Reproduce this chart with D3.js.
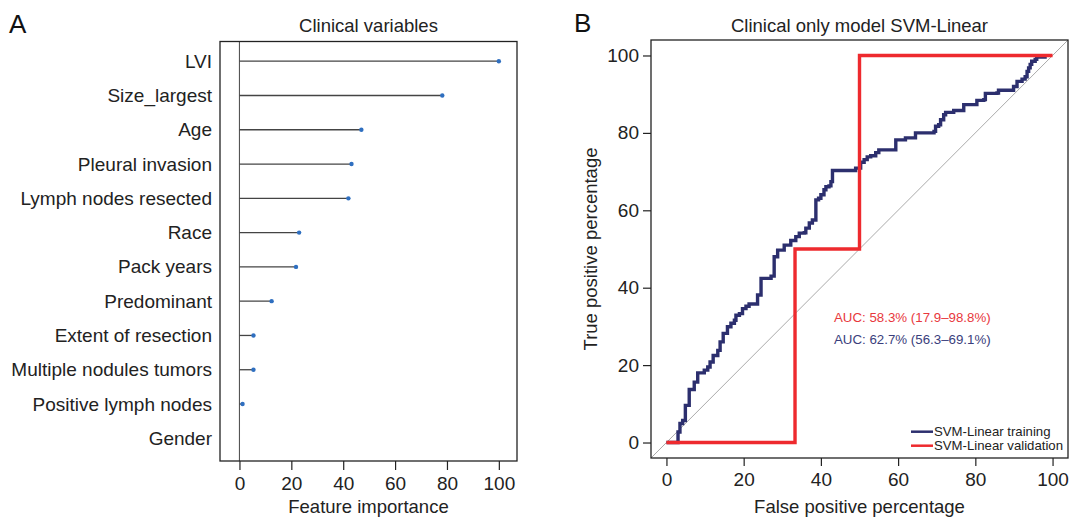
<!DOCTYPE html>
<html>
<head>
<meta charset="utf-8">
<script src="https://cdn.jsdelivr.net/npm/d3@7"></script>
<style>
  body { margin: 0; background: #fff; }
  svg { display: block; font-family: "Liberation Sans", Arial, Helvetica, sans-serif; }
  .axis text { font-size: 19px; fill: #222; }
  .axis line { stroke: #222; stroke-width: 1.2; }
</style>
</head>
<body>
<svg width="1073" height="520"></svg>
<script>
// panel A: variable importance
const variables = ["LVI", "Size_largest", "Age", "Pleural invasion", "Lymph nodes resected",
  "Race", "Pack years", "Predominant", "Extent of resection", "Multiple nodules tumors",
  "Positive lymph nodes", "Gender"];
const importance = [100, 78.2, 47.0, 43.2, 42.0, 23.0, 21.8, 12.4, 5.4, 5.4, 1.2, 0];
const importanceTicks = [0, 20, 40, 60, 80, 100];

// panel B: ROC curves (percent)
const trainFpr = [0, 3.0, 3.0, 3.5, 3.5, 4.2, 4.9, 4.9, 5.9, 5.9, 7.2, 7.2, 8.1, 8.1, 9.8, 9.8,
  10.7, 10.7, 11.3, 11.3, 12.1, 12.1, 13.3, 13.3, 13.9, 13.9, 14.7, 14.7, 15.8, 15.8, 16.7, 16.7,
  17.6, 17.6, 18.0, 18.9, 19.7, 20.6, 21.4, 23.6, 23.6, 24.5, 24.5, 26.2, 27.1, 27.9, 27.9, 28.8,
  28.8, 30.5, 30.5, 31.3, 32.2, 33.5, 34.4, 35.7, 36.1, 37.0, 37.8, 38.7, 38.7, 39.4, 40.0, 40.8,
  41.3, 42.1, 42.6, 43.0, 43.0, 48.6, 49.0, 49.6, 50.3, 51.2, 52.0, 52.9, 54.2, 55.0, 59.4, 59.4,
  61.5, 61.9, 63.6, 64.5, 69.3, 69.7, 70.5, 71.0, 71.8, 72.3, 74.0, 74.4, 76.6, 77.0, 80.0, 80.4,
  82.2, 82.6, 85.6, 86.0, 89.5, 89.9, 90.8, 92.1, 92.9, 93.4, 93.8, 94.2, 94.6, 95.5, 95.9, 98.5];
const trainTpr = [0, 0, 2.7, 2.7, 4.9, 5.7, 5.7, 9.6, 9.6, 13.7, 13.7, 15.6, 15.6, 18.0, 18.0, 18.7,
  18.7, 19.5, 19.5, 20.8, 20.8, 22.5, 22.5, 23.8, 23.8, 26.0, 26.0, 28.2, 28.2, 29.9, 29.9, 30.8,
  30.8, 31.6, 32.9, 33.3, 34.6, 35.2, 35.8, 35.8, 38.1, 38.1, 42.4, 42.4, 43.0, 43.0, 48.0, 48.0,
  49.7, 49.7, 51.0, 51.0, 52.2, 53.2, 54.1, 54.2, 55.4, 56.7, 57.5, 59.2, 62.7, 63.1, 64.0, 65.3,
  66.1, 66.3, 67.4, 67.9, 70.3, 70.3, 70.9, 70.9, 72.4, 73.1, 73.8, 74.1, 74.9, 75.6, 75.6, 78.2,
  78.2, 78.7, 78.7, 80.0, 80.4, 81.7, 82.1, 83.4, 84.7, 85.3, 85.3, 85.8, 85.8, 87.3, 87.3, 88.4,
  88.6, 90.2, 90.3, 91.0, 91.0, 92.0, 93.3, 93.9, 94.5, 95.9, 96.8, 97.7, 98.5, 99.0, 99.6, 99.6];
const validFpr = [0, 33.3, 33.3, 50, 50, 100];
const validTpr = [0, 0, 50, 50, 100, 100];
const rocTicks = [0, 20, 40, 60, 80, 100];
const aucLabels = ["AUC: 58.3% (17.9\u201398.8%)", "AUC: 62.7% (56.3\u201369.1%)"];
const legendLabels = ["SVM-Linear training", "SVM-Linear validation"];

const navy = "#2c2f6e";
const red = "#ee2a2e";

const svg = d3.select("svg");

// ---------- panel A ----------
const boxA = { left: 220, right: 517, top: 41.5, bottom: 461 };
const xA = d3.scaleLinear().domain([-7.5, 107]).range([boxA.left, boxA.right]);
const yA = d3.scalePoint().domain(variables).range([61.2, 438.3]);

const gA = svg.append("g");

gA.append("line")
  .attr("x1", xA(0)).attr("x2", xA(0))
  .attr("y1", boxA.top).attr("y2", boxA.bottom)
  .attr("stroke", "#555").attr("stroke-width", 1.1);

const rowsA = variables.map((v, i) => ({ name: v, value: importance[i] }));

gA.selectAll(".stem")
  .data(rowsA)
  .enter()
  .append("line")
  .attr("class", "stem")
  .attr("x1", xA(0))
  .attr("x2", d => xA(d.value))
  .attr("y1", d => yA(d.name))
  .attr("y2", d => yA(d.name))
  .attr("stroke", "#444")
  .attr("stroke-width", 1.3);

gA.selectAll(".dot")
  .data(rowsA.filter(d => d.value > 0))
  .enter()
  .append("circle")
  .attr("class", "dot")
  .attr("cx", d => xA(d.value))
  .attr("cy", d => yA(d.name))
  .attr("r", 2.2)
  .attr("fill", "#2f6fc0");

gA.append("rect")
  .attr("x", boxA.left).attr("y", boxA.top)
  .attr("width", boxA.right - boxA.left).attr("height", boxA.bottom - boxA.top)
  .attr("fill", "none").attr("stroke", "#222").attr("stroke-width", 1.3);

gA.append("g")
  .attr("class", "axis")
  .attr("transform", `translate(0,${boxA.bottom})`)
  .call(d3.axisBottom(xA).tickValues(importanceTicks).tickSize(9).tickPadding(7))
  .call(g => g.select(".domain").remove());

gA.append("g")
  .attr("class", "axis")
  .attr("transform", `translate(${boxA.left - 8},0)`)
  .call(d3.axisLeft(yA).tickSize(0).tickPadding(0))
  .call(g => g.select(".domain").remove());

gA.append("text")
  .attr("x", (boxA.left + boxA.right) / 2).attr("y", 32)
  .attr("text-anchor", "middle").attr("font-size", 18.5).attr("fill", "#222")
  .text("Clinical variables");

gA.append("text")
  .attr("x", (boxA.left + boxA.right) / 2).attr("y", 513)
  .attr("text-anchor", "middle").attr("font-size", 18.5).attr("fill", "#222")
  .text("Feature importance");

svg.append("text")
  .attr("x", 9).attr("y", 33)
  .attr("font-size", 26).attr("fill", "#111")
  .text("A");

// ---------- panel B ----------
const boxB = { left: 651, right: 1068, top: 40, bottom: 458 };
const xB = d3.scaleLinear().domain([-4, 104]).range([boxB.left, boxB.right]);
const yB = d3.scaleLinear().domain([-4, 104]).range([boxB.bottom, boxB.top]);

const gB = svg.append("g");

gB.append("clipPath").attr("id", "clipB")
  .append("rect")
  .attr("x", boxB.left).attr("y", boxB.top)
  .attr("width", boxB.right - boxB.left).attr("height", boxB.bottom - boxB.top);

const plotB = gB.append("g").attr("clip-path", "url(#clipB)");

plotB.append("line")
  .attr("x1", xB(-4)).attr("y1", yB(-4))
  .attr("x2", xB(104)).attr("y2", yB(104))
  .attr("stroke", "#aaa").attr("stroke-width", 1);

const train = trainFpr.map((f, i) => [f, trainTpr[i]]);
const valid = validFpr.map((f, i) => [f, validTpr[i]]);

const rocLine = d3.line()
  .x(d => xB(d[0]))
  .y(d => yB(d[1]))
  .curve(d3.curveStepAfter);

plotB.append("path")
  .datum(train)
  .attr("d", rocLine)
  .attr("fill", "none")
  .attr("stroke", navy)
  .attr("stroke-width", 3.4);

plotB.append("path")
  .datum(valid)
  .attr("d", rocLine)
  .attr("fill", "none")
  .attr("stroke", red)
  .attr("stroke-width", 3.4);

gB.append("rect")
  .attr("x", boxB.left).attr("y", boxB.top)
  .attr("width", boxB.right - boxB.left).attr("height", boxB.bottom - boxB.top)
  .attr("fill", "none").attr("stroke", "#222").attr("stroke-width", 1.3);

gB.append("g")
  .attr("class", "axis")
  .attr("transform", `translate(0,${boxB.bottom})`)
  .call(d3.axisBottom(xB).tickValues(rocTicks).tickSize(8).tickPadding(7))
  .call(g => g.select(".domain").remove());

gB.append("g")
  .attr("class", "axis")
  .attr("transform", `translate(${boxB.left},0)`)
  .call(d3.axisLeft(yB).tickValues(rocTicks).tickSize(8).tickPadding(4))
  .call(g => g.select(".domain").remove());

gB.append("text")
  .attr("x", (boxB.left + boxB.right) / 2).attr("y", 32)
  .attr("text-anchor", "middle").attr("font-size", 18.5).attr("fill", "#222")
  .text("Clinical only model SVM-Linear");

gB.append("text")
  .attr("x", (boxB.left + boxB.right) / 2).attr("y", 513)
  .attr("text-anchor", "middle").attr("font-size", 18.5).attr("fill", "#222")
  .text("False positive percentage");

gB.append("text")
  .attr("transform", `translate(597,${(boxB.top + boxB.bottom) / 2}) rotate(-90)`)
  .attr("text-anchor", "middle").attr("font-size", 18.5).attr("fill", "#222")
  .text("True positive percentage");

// AUC annotations
gB.selectAll(".auc")
  .data(aucLabels)
  .enter()
  .append("text")
  .attr("class", "auc")
  .attr("x", 834)
  .attr("y", (d, i) => 322 + i * 21.5)
  .attr("font-size", 13.3)
  .attr("fill", (d, i) => i === 0 ? "#e8383d" : "#3a3e7c")
  .text(d => d);

// legend
const legend = gB.append("g");
legendLabels.forEach((lab, i) => {
  const ly = 431.7 + i * 14;
  legend.append("line")
    .attr("x1", 911).attr("x2", 933)
    .attr("y1", ly).attr("y2", ly)
    .attr("stroke", i === 0 ? navy : red)
    .attr("stroke-width", 2.5);
  legend.append("text")
    .attr("x", 934).attr("y", ly + 4.6)
    .attr("font-size", 13.2).attr("fill", "#222")
    .text(lab);
});

svg.append("text")
  .attr("x", 574).attr("y", 32)
  .attr("font-size", 26).attr("fill", "#111")
  .text("B");
</script>
</body>
</html>
